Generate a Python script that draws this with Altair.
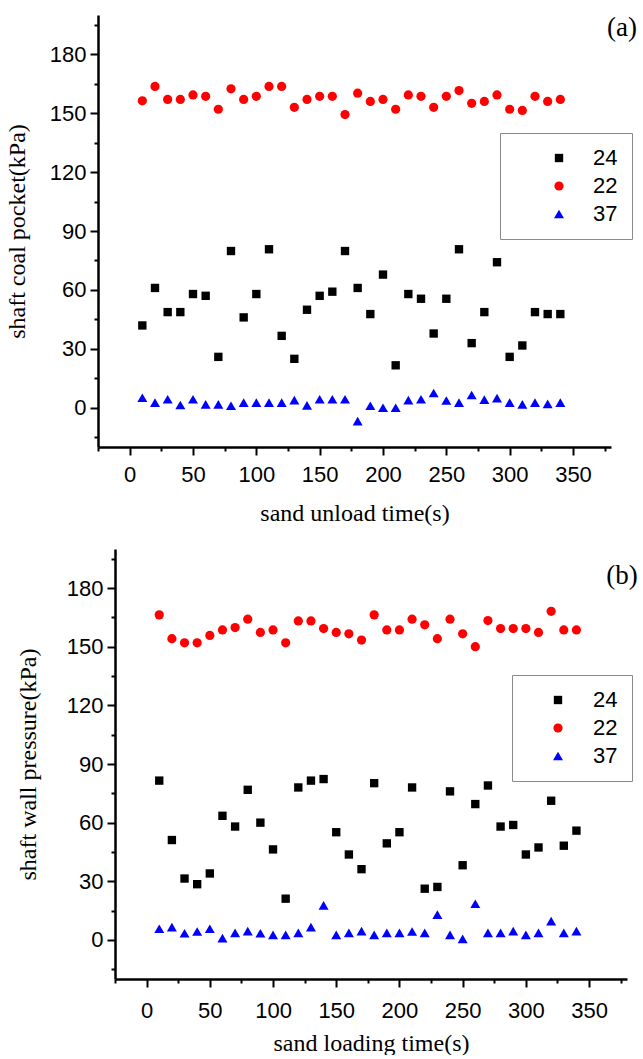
import altair as alt
import pandas as pd

time_s = [10, 20, 30, 40, 50, 60, 70, 80, 90, 100, 110, 120, 130, 140, 150, 160, 170,
          180, 190, 200, 210, 220, 230, 240, 250, 260, 270, 280, 290, 300, 310, 320, 330, 340]

# panel (a): shaft coal pocket
a_24 = [41.9, 61.0, 48.7, 48.7, 57.9, 57.0, 25.9, 79.8, 46.0, 57.9, 80.7, 36.6, 24.9, 49.9, 57.0, 59.1, 79.8,
        61.0, 47.7, 67.8, 21.6, 57.9, 55.5, 37.8, 55.5, 80.7, 32.9, 48.7, 74.1, 25.9, 31.7, 48.7, 47.7, 47.7]
a_22 = [156.3, 163.6, 157.0, 157.0, 159.3, 158.6, 152.0, 162.4, 157.0, 158.6, 163.6, 163.6, 153.0, 157.0, 158.6, 158.6, 149.3,
        160.2, 156.0, 157.0, 152.0, 159.3, 158.6, 153.0, 158.6, 161.5, 155.0, 156.0, 159.3, 152.0, 151.4, 158.6, 156.0, 157.0]
a_37 = [5.1, 2.6, 4.3, 1.4, 4.3, 1.7, 1.7, 1.0, 2.6, 2.6, 2.6, 2.6, 3.9, 1.2, 4.3, 4.3, 4.3,
        -6.8, 1.0, 0.0, 0.0, 3.9, 4.3, 7.5, 3.7, 2.6, 6.5, 4.1, 4.9, 2.6, 1.7, 2.6, 2.0, 2.6]

# panel (b): shaft wall pressure
b_24 = [81.5, 51.1, 31.4, 28.5, 34.0, 63.5, 58.0, 76.8, 60.0, 46.3, 21.1, 78.0, 81.5, 82.3, 55.1, 43.7, 36.2,
        80.2, 49.4, 55.1, 78.0, 26.2, 27.1, 76.0, 38.2, 69.5, 79.0, 58.0, 58.8, 43.7, 47.3, 71.2, 48.2, 55.9]
b_22 = [166.3, 154.1, 152.0, 152.0, 155.8, 158.6, 159.8, 164.1, 157.3, 158.6, 152.0, 163.2, 163.2, 159.3, 157.3, 156.6, 153.4,
        166.3, 158.6, 158.6, 164.1, 161.2, 154.1, 164.1, 156.6, 150.0, 163.4, 159.3, 159.3, 159.3, 157.3, 168.1, 158.6, 158.6]
b_37 = [5.7, 6.5, 3.4, 4.3, 5.7, 0.9, 3.6, 4.5, 3.4, 2.6, 2.6, 3.6, 6.5, 17.7, 2.6, 3.6, 4.5,
        2.6, 3.6, 3.6, 4.3, 3.6, 12.9, 2.6, 0.5, 18.5, 3.6, 3.6, 4.5, 2.6, 3.6, 9.6, 3.6, 4.5]

series_names = ["24", "22", "37"]
series_colors = ["#000000", "#ff0000", "#0000ff"]
series_shapes = ["square", "circle", "triangle-up"]
series_sizes = [70, 100, 135]

x_ticks = [-25, 0, 25, 50, 75, 100, 125, 150, 175, 200, 225, 250, 275, 300, 325, 350, 375]
y_ticks = [-15, 0, 15, 30, 45, 60, 75, 90, 105, 120, 135, 150, 165, 180, 195]

SANS = "Liberation Sans"
SERIF = "Liberation Serif"


def panel(s24, s22, s37, xtitle, ytitle, tag, w, h, inset, lx, ly, sym_off, lab_off,
          tag_x, tag_y, ytitle_x, xlab_pad, xtitle_pad):
    n = len(time_s)
    df = pd.DataFrame({
        "time": time_s * 3,
        "value": s24 + s22 + s37,
        "series": [series_names[0]] * n + [series_names[1]] * n + [series_names[2]] * n,
    })
    leg = alt.Legend(
        orient="none", legendX=lx, legendY=ly, title=None,
        labelFont=SANS, labelFontSize=22, labelColor="black",
        labelExpr="datum.label + '\u00a0\u00a0\u00a0'",
        symbolSize=70, symbolStrokeWidth=0, symbolOffset=sym_off, labelOffset=lab_off,
        padding=14, rowPadding=6, strokeColor="#8a8a8a", fillColor="white",
    )
    pts = alt.Chart(df).mark_point(filled=True, opacity=1, strokeWidth=0).encode(
        x=alt.X("time:Q",
                scale=alt.Scale(domain=[-25, 380], range=[inset, w], nice=False, zero=False),
                axis=alt.Axis(values=x_ticks, title=xtitle,
                              labelExpr="(datum.value % 50 === 0 && datum.value >= 0) ? datum.label : ''",
                              tickSize={"condition": {"test": "datum.value % 50 !== 0", "value": 4}, "value": 8},
                              labelPadding=xlab_pad, titlePadding=xtitle_pad)),
        y=alt.Y("value:Q",
                scale=alt.Scale(domain=[-20, 200], nice=False, zero=False),
                axis=alt.Axis(values=y_ticks, title=ytitle, offset=-inset,
                              labelExpr="(datum.value % 30 === 0) ? datum.label : ''",
                              tickSize={"condition": {"test": "datum.value % 30 !== 0", "value": 4}, "value": 8},
                              labelPadding=4, titleX=ytitle_x, titleY=h / 2, titleBaseline="alphabetic")),
        color=alt.Color("series:N", scale=alt.Scale(domain=series_names, range=series_colors), legend=leg),
        shape=alt.Shape("series:N", scale=alt.Scale(domain=series_names, range=series_shapes), legend=leg),
        size=alt.Size("series:N", scale=alt.Scale(domain=series_names, range=series_sizes), legend=None),
    )
    txt = alt.Chart(pd.DataFrame({"tag": [tag]})).mark_text(
        font=SERIF, fontSize=27, align="center", baseline="middle", color="black"
    ).encode(text="tag:N", x=alt.value(tag_x), y=alt.value(tag_y))
    return alt.layer(pts, txt).properties(width=w, height=h)


pa = panel(a_24, a_22, a_37, "sand unload time(s)", "shaft coal pocket(kPa)", "(a)",
           513, 432, 0, 402, 118, 34, 23, 524, 13, -74, 9, 16)
pb = panel(b_24, b_22, b_37, "sand loading time(s)", "shaft wall pressure(kPa)", "(b)",
           529, 430, 17, 414, 126, 21, 24, 524, 27, -80, 13, 10)

chart = alt.vconcat(pa, pb, spacing=22).resolve_scale(
    color="independent", shape="independent", size="independent"
).resolve_legend(
    color="independent", shape="independent"
).properties(
    padding={"left": 5, "top": 13, "right": 0, "bottom": 0}
).configure_view(stroke=None).configure_axis(
    domainColor="black", domainWidth=2.5, tickColor="black", tickWidth=2,
    labelFont=SANS, labelFontSize=22, labelColor="black",
    titleFont=SERIF, titleFontSize=24, titleFontWeight="normal", titleColor="black",
    grid=False, labelOverlap=False, labelFlush=False,
)

chart.save("out.html", embed_options={"renderer": "svg", "actions": False})
